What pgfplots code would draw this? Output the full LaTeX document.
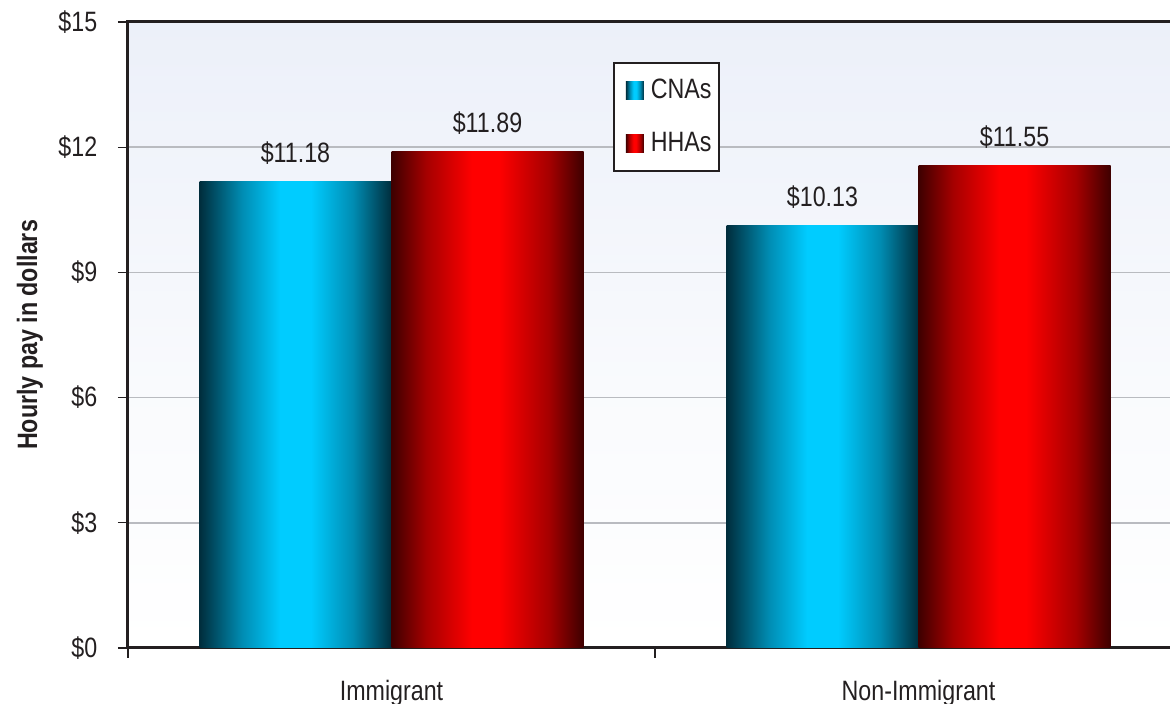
\documentclass[border=0pt]{standalone}
\usepackage{fontspec}
\setmainfont[FakeStretch=0.83]{Liberation Sans}
\usepackage{pgfplots}
\pgfplotsset{compat=1.18}
\definecolor{txt}{RGB}{35,31,32}
\definecolor{gridc}{RGB}{185,187,192}
\definecolor{bgtop}{RGB}{236,240,249}
\definecolor{cnaDark}{RGB}{0,45,60}
\definecolor{cnaMid}{RGB}{0,140,178}
\definecolor{cnaBright}{RGB}{0,204,255}
\definecolor{hhaDark}{RGB}{62,0,0}
\definecolor{hhaMid}{RGB}{165,0,0}
\definecolor{hhaBright}{RGB}{255,0,0}
\pgfdeclarehorizontalshading{cnashade}{100bp}{color(0bp)=(cnaDark); color(25bp)=(cnaDark); color(36bp)=(cnaMid); color(46bp)=(cnaBright); color(54bp)=(cnaBright); color(65bp)=(cnaMid); color(75bp)=(cnaDark); color(100bp)=(cnaDark)}
\pgfdeclarehorizontalshading{hhashade}{100bp}{color(0bp)=(hhaDark); color(25bp)=(hhaDark); color(34bp)=(hhaMid); color(46bp)=(hhaBright); color(53bp)=(hhaBright); color(66bp)=(hhaMid); color(75bp)=(hhaDark); color(100bp)=(hhaDark)}
\pgfdeclareverticalshading{bgshade}{100bp}{color(0bp)=(white); color(25bp)=(white); color(45bp)=(white!70!bgtop); color(75bp)=(bgtop); color(100bp)=(bgtop)}
\begin{document}
\fontsize{14pt}{17pt}\selectfont
\begin{tikzpicture}
\useasboundingbox (-64pt,-28pt) rectangle (521pt,324pt);
\clip (-64pt,-28pt) rectangle (521pt,324pt);
\begin{axis}[
  at={(0pt,0pt)}, anchor=south west,
  scale only axis, width=527pt, height=313pt,
  xmin=0, xmax=2, ymin=0, ymax=15,
  enlargelimits=false,
  axis background/.style={shading=bgshade},
  axis line style={draw=txt, line width=1.5pt},
  xtick={0,1,2}, xticklabels={Immigrant,Non-Immigrant},
  x tick label as interval,
  ytick={0,3,6,9,12,15},
  yticklabels={\$0,\$3,\$6,\$9,\$12,\$15},
  tick align=outside, tick pos=left,
  major tick length=5pt,
  tick style={draw=txt, line width=0.6pt},
  ymajorgrids,
  major grid style={draw=gridc, line width=0.8pt},
  tick label style={text=txt, font=\fontsize{14pt}{17pt}\selectfont},
  yticklabel style={xshift=-5.5pt},
  xticklabel style={yshift=-6pt},
  /pgf/number format/assume math mode=true,
  ylabel={Hourly pay in dollars},
  every axis y label/.style={at={(rel axis cs:0,0.5)}, xshift=-49pt, rotate=90, anchor=center, font=\bfseries\fontsize{14pt}{17pt}\selectfont, text=txt},
  ybar, bar width=96pt,
  nodes near coords={\$\pgfmathprintnumber[fixed,fixed zerofill,precision=2]{\pgfplotspointmeta}},
  nodes near coords style={anchor=base, yshift=9.5pt, text=txt, font=\fontsize{14pt}{17pt}\selectfont},
  legend style={at={(0.46,0.936)}, anchor=north west, draw=txt, line width=1pt, fill=white,
    inner xsep=2pt, inner ysep=6pt, row sep=10.5pt, font=\fontsize{14pt}{17pt}\selectfont, text=txt,
    nodes={inner xsep=1.5pt}},
  legend cell align=left,
]
\addplot[draw=none, shading=cnashade, bar shift=-48pt,
  legend image code/.code={\path (0pt,0pt) (15pt,0pt); \path[shading=cnashade] (4pt,-4.5pt) rectangle (13pt,4.5pt);}]
  coordinates {(0.5,11.18)};
\addplot[draw=none, shading=hhashade, bar shift=48pt,
  legend image code/.code={\path (0pt,0pt) (15pt,0pt); \path[shading=hhashade] (4pt,-4.5pt) rectangle (13pt,4.5pt);}]
  coordinates {(0.5,11.89)};
\addplot[draw=none, shading=cnashade, bar shift=-48pt, forget plot]
  coordinates {(1.5,10.13)};
\addplot[draw=none, shading=hhashade, bar shift=48pt, forget plot]
  coordinates {(1.5,11.55)};
\legend{CNAs,HHAs}
\end{axis}
\end{tikzpicture}
\end{document}
